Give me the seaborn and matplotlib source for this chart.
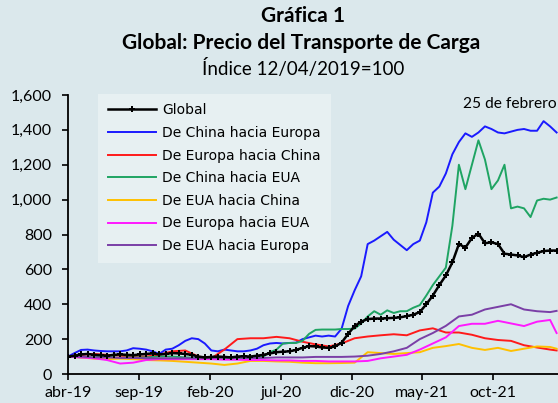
import numpy as np
import pandas as pd
import matplotlib
matplotlib.use('Agg')
import matplotlib.pyplot as plt
import seaborn as sns
from matplotlib.ticker import FuncFormatter

# Datos: semanas desde el 12/04/2019 (último dato 25/02/2022)
inicio = pd.Timestamp('2019-04-12')
semanas_2 = list(range(0, 151, 2))
semanas_4 = list(range(0, 149, 4)) + [150]

global_idx = [100, 105, 112, 115, 110, 108, 105, 110, 112, 110,
              108, 112, 115, 118, 112, 115, 120, 118, 115, 110,
              100, 95, 98, 100, 98, 95, 100, 102, 100, 105,
              110, 118, 125, 128, 130, 138, 150, 160, 158, 152,
              150, 158, 180, 230, 275, 300, 315, 318, 318, 320,
              322, 325, 332, 340, 355, 400, 450, 510, 565, 640,
              745, 725, 780, 805, 750, 755, 745, 690, 685, 680,
              670, 685, 695, 705, 708, 708]
china_europa = [100, 120, 138, 140, 135, 132, 130, 130, 130, 135,
                148, 145, 140, 130, 115, 140, 145, 165, 190, 205,
                200, 175, 135, 130, 140, 135, 130, 130, 135, 145,
                165, 175, 178, 175, 178, 180, 200, 210, 220, 215,
                220, 215, 260, 390, 480, 560, 745, 765, 790, 815,
                770, 740, 710, 745, 765, 870, 1040, 1075, 1150, 1260,
                1330, 1380, 1360, 1385, 1420, 1405, 1385, 1380, 1390, 1400,
                1405, 1395, 1395, 1450, 1420, 1385]
china_eua = [100, 98, 95, 95, 95, 98, 100, 95, 92, 95,
             95, 95, 95, 98, 100, 100, 100, 98, 95, 95,
             92, 90, 92, 92, 90, 90, 92, 92, 92, 95,
             100, 125, 140, 175, 178, 178, 190, 230, 253, 255,
             255, 255, 258, 258, 260, 290, 330, 360, 340, 365,
             350, 360, 360, 380, 395, 450, 510, 560, 610, 850,
             1200, 1060, 1200, 1340, 1230, 1060, 1110, 1200, 950, 960,
             950, 900, 995, 1005, 1000, 1012]
europa_china = [100, 110, 115, 110, 105, 100, 100, 110, 130, 135,
                100, 90, 140, 200, 205, 205, 213, 205, 185, 170,
                158, 175, 205, 215, 222, 228, 222, 250, 262, 238,
                238, 225, 205, 195, 190, 165, 152, 140, 135]
eua_china = [100, 95, 88, 85, 88, 85, 80, 78, 75, 70,
             65, 60, 52, 60, 75, 75, 72, 70, 65, 62,
             62, 63, 65, 125, 120, 115, 120, 125, 150, 160,
             172, 150, 138, 150, 132, 145, 158, 155, 145]
europa_eua = [100, 95, 90, 80, 60, 65, 80, 85, 85, 85,
              85, 85, 82, 82, 80, 80, 78, 78, 75, 75,
              72, 72, 72, 75, 90, 100, 110, 140, 175, 210,
              275, 288, 288, 305, 290, 275, 300, 310, 235]
eua_europa = [100, 100, 95, 95, 92, 92, 90, 90, 90, 90,
              90, 92, 95, 95, 92, 92, 95, 95, 95, 98,
              98, 98, 100, 105, 115, 130, 150, 200, 235, 276,
              330, 340, 370, 385, 400, 370, 360, 355, 362]

etiquetas_x = ['abr-19', 'sep-19', 'feb-20', 'jul-20', 'dic-20', 'may-21', 'oct-21']

series = [
    ('De China hacia Europa', semanas_2, china_europa, '#1a1aff'),
    ('De Europa hacia China', semanas_4, europa_china, '#ff1a1a'),
    ('De China hacia EUA', semanas_2, china_eua, '#1fa463'),
    ('De EUA hacia China', semanas_4, eua_china, '#ffc000'),
    ('De Europa hacia EUA', semanas_4, europa_eua, '#ff19ff'),
    ('De EUA hacia Europa', semanas_4, eua_europa, '#7a3fa6'),
]


def a_fechas(semanas):
    return [inicio + pd.Timedelta(weeks=w) for w in semanas]


fondo = '#dbe8ec'
fig = plt.figure(figsize=(5.58, 4.03), dpi=100, facecolor=fondo)
ax = fig.add_axes([68 / 558, 29 / 403, 490 / 558, 279 / 403])
ax.set_facecolor(fondo)

for nombre, x, y, color in series:
    df = pd.DataFrame({'fecha': a_fechas(x), 'valor': y})
    sns.lineplot(data=df, x='fecha', y='valor', color=color, lw=1.4, ax=ax, label=nombre)

dfg = pd.DataFrame({'fecha': a_fechas(semanas_2), 'valor': global_idx})
sns.lineplot(data=dfg, x='fecha', y='valor', color='black', lw=1.8, marker='P',
             markersize=4, markeredgewidth=0, ax=ax, label='Global')

ax.set_xlim(inicio, pd.Timestamp('2022-02-28'))
ax.set_ylim(0, 1600)
ax.set_yticks(range(0, 1601, 200))
ax.yaxis.set_major_formatter(FuncFormatter(lambda v, p: f'{int(v):,}'))
ax.set_xticks(pd.date_range(inicio, periods=7, freq=pd.DateOffset(months=5)))
ax.set_xticklabels(etiquetas_x)
ax.set_xlabel('')
ax.set_ylabel('')
for s in ['top', 'right']:
    ax.spines[s].set_visible(False)
for s in ['left', 'bottom']:
    ax.spines[s].set_color('black')
    ax.spines[s].set_linewidth(1.3)
ax.tick_params(axis='both', direction='out', length=4.5, width=1.2, colors='black',
               labelsize=11.5)
ax.tick_params(axis='y', pad=7)
ax.tick_params(axis='x', pad=4)
for lab in ax.get_xticklabels() + ax.get_yticklabels():
    lab.set_fontfamily('Lato')

h, l = ax.get_legend_handles_labels()
orden = [l.index('Global')] + [i for i in range(len(l)) if l[i] != 'Global']
leg = ax.legend([h[i] for i in orden], [l[i] for i in orden], loc='upper left',
                bbox_to_anchor=(0.061, 1.005), borderaxespad=0, frameon=True,
                framealpha=0.35, facecolor='white', edgecolor='none', fancybox=False,
                handlelength=3.5, handletextpad=0.45, labelspacing=0.62, borderpad=0.7,
                prop={'family': 'DejaVu Sans', 'size': 10})

ax.text(0.806, 0.968, '25 de febrero', transform=ax.transAxes, fontsize=11.2,
        family='Lato', ha='left', va='center')

fig.text(0.543, 0.960, 'Gráfica 1', ha='center', va='center', fontsize=15,
         fontweight='bold', family='Lato')
fig.text(0.54, 0.893, 'Global: Precio del Transporte de Carga', ha='center', va='center',
         fontsize=15, fontweight='bold', family='Lato')
fig.text(0.543, 0.829, 'Índice 12/04/2019=100', ha='center', va='center',
         fontsize=13.5, family='Lato')

fig.savefig('out.png', dpi=100, facecolor=fondo)
